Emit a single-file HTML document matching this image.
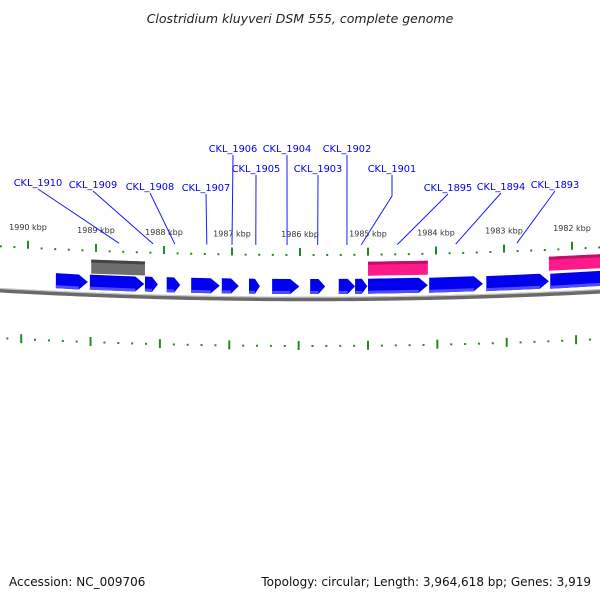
<!DOCTYPE html>
<html><head><meta charset="utf-8"><style>
body{margin:0;background:#fff;width:600px;height:600px;overflow:hidden}
svg{display:block;font-family:"DejaVu Sans","Liberation Sans",sans-serif}
</style></head><body>
<svg id="map" width="600" height="600" viewBox="0 0 600 600">
<text x="300" y="23" text-anchor="middle" font-size="12.5" font-style="italic" fill="#222">Clostridium kluyveri DSM 555, complete genome</text>
<text x="9" y="586" font-size="12" fill="#111">Accession: NC_009706</text>
<text x="591" y="586" text-anchor="end" font-size="12" fill="#111">Topology: circular; Length: 3,964,618 bp; Genes: 3,919</text>
<g id="g"></g>
</svg>
<script>
// tick kbp values
const majorTicks = [1990,1989,1988,1987,1986,1985,1984,1983,1982];
// genes in kbp (start at left, end at right; forward strand toward right)
const geneStart = [1989.59,1989.09,1988.28,1987.96,1987.60,1987.15,1986.75,1986.41,1985.85,1985.43,1985.19,1985.00,1984.10,1983.26,1982.32];
const geneEnd   = [1989.12,1988.29,1988.09,1987.76,1987.18,1986.90,1986.59,1986.01,1985.63,1985.19,1985.01,1984.12,1983.31,1982.34,1981.40];
// feature bars
const grayStart=[1989.07], grayEnd=[1988.28];
const pinkStart=[1985.00,1982.34], pinkEnd=[1984.12,1981.40];
// annotation labels
const labelNames=["CKL_1910","CKL_1909","CKL_1908","CKL_1907","CKL_1906","CKL_1905","CKL_1904","CKL_1903","CKL_1902","CKL_1901","CKL_1895","CKL_1894","CKL_1893"];
const labelTargets=[1988.66,1988.16,1987.84,1987.37,1987.00,1986.65,1986.19,1985.74,1985.31,1985.10,1984.57,1983.71,1982.81];
const labelX=[38,93,150,206,233,256,287,318,347,392,448,501,555];
const labelY=[186,188,190,191,152,172,152,172,152,172,191,190,188];

const NS="http://www.w3.org/2000/svg", G=document.getElementById('g');
const X=k=>28+(1990-k)*68;
const S=x=>-Math.pow(x-310,2)/11000;
function mk(t,a,p){const e=document.createElementNS(NS,t);for(const k in a)e.setAttribute(k,a[k]);(p||G).appendChild(e);return e;}

// backbone
let d="";for(let x=-5;x<=605;x+=5)d+=(x<0?"M":"L")+x+" "+(299+S(x)).toFixed(2);
let bb=mk('path',{d:d,stroke:'#6a6a6a',"stroke-width":4.5,fill:'none'});

let bb2=mk('path',{d:d,stroke:'#c8c8c8',"stroke-width":1.2,fill:'none',transform:'translate(0,-1.8)'});


// ticks
for(let k=1991;k>=1981;k-=0.2){
  const kk=Math.round(k*10)/10,x=X(kk);if(x<-3||x>603)continue;
  const maj=Math.abs(kk-Math.round(kk))<0.01;
  const y=256+S(x);
  let t=mk('line',{x1:x,x2:x,y1:maj?y-8:y-2,y2:y,stroke:'#228b22',"stroke-width":2});
  
  const xi=368+(x-368)*1.02,yi=350+S(xi)*0.9;
  let ti=mk('line',{x1:xi,x2:xi,y1:maj?yi-9:yi-5,y2:maj?yi:yi-3,stroke:'#228b22',"stroke-width":2});
  
}
majorTicks.forEach(k=>{const x=X(k);
  let t=mk('text',{x:x,y:237+S(x),"text-anchor":"middle","font-size":8,fill:'#333'});t.textContent=k+" kbp";
  });

// bars
function bar(a,b,base,h,c1,c2,name){const x1=X(a),x2=X(b);
  const y1=base+S(x1),y2=base+S(x2);
  let p=mk('polygon',{points:`${x1},${y1} ${x2},${y2} ${x2},${y2+h} ${x1},${y1+h}`,fill:c1});
  
  let q=mk('polygon',{points:`${x1},${y1} ${x2},${y2} ${x2},${y2+3} ${x1},${y1+3}`,fill:c2});
  }
grayStart.forEach((s,i)=>bar(s,grayEnd[i],264,14,'#6e6e6e','#444','gray-feature'));
pinkStart.forEach((s,i)=>bar(s,pinkEnd[i],262,14,'#ff1a8c','#c0106a','pink-feature'));

// genes
geneStart.forEach((s,i)=>{const x1=X(s),x2=X(geneEnd[i]);const h=15;
  const tip=Math.min(9,(x2-x1)*0.45);const ya=279+S(x1),yb=279+S(x2);
  let p=mk('polygon',{points:`${x1},${ya} ${x2-tip},${yb} ${x2},${yb+h/2} ${x2-tip},${yb+h} ${x1},${ya+h}`,fill:'#0000ee'});
  
  let q=mk('polygon',{points:`${x1},${ya+h-3} ${x2-tip},${yb+h-3} ${x2-tip},${yb+h} ${x1},${ya+h}`,fill:'#4d4dff'});
  });

// labels
labelNames.forEach((n,i)=>{const tx=X(labelTargets[i]),ty=245+S(tx)*0.5;
  let pts=`${labelX[i]},${labelY[i]+3} `;
  if(n==="CKL_1901")pts+=`${labelX[i]},${labelY[i]+24} `;
  pts+=`${tx},${ty}`;
  let l=mk('polyline',{points:pts,stroke:'#1a1aff',"stroke-width":1,fill:'none'});
  
  let t=mk('text',{x:labelX[i],y:labelY[i],"text-anchor":"middle","font-size":9.8,fill:'#0000ee'});t.textContent=n;
  });
</script>
</body></html>
